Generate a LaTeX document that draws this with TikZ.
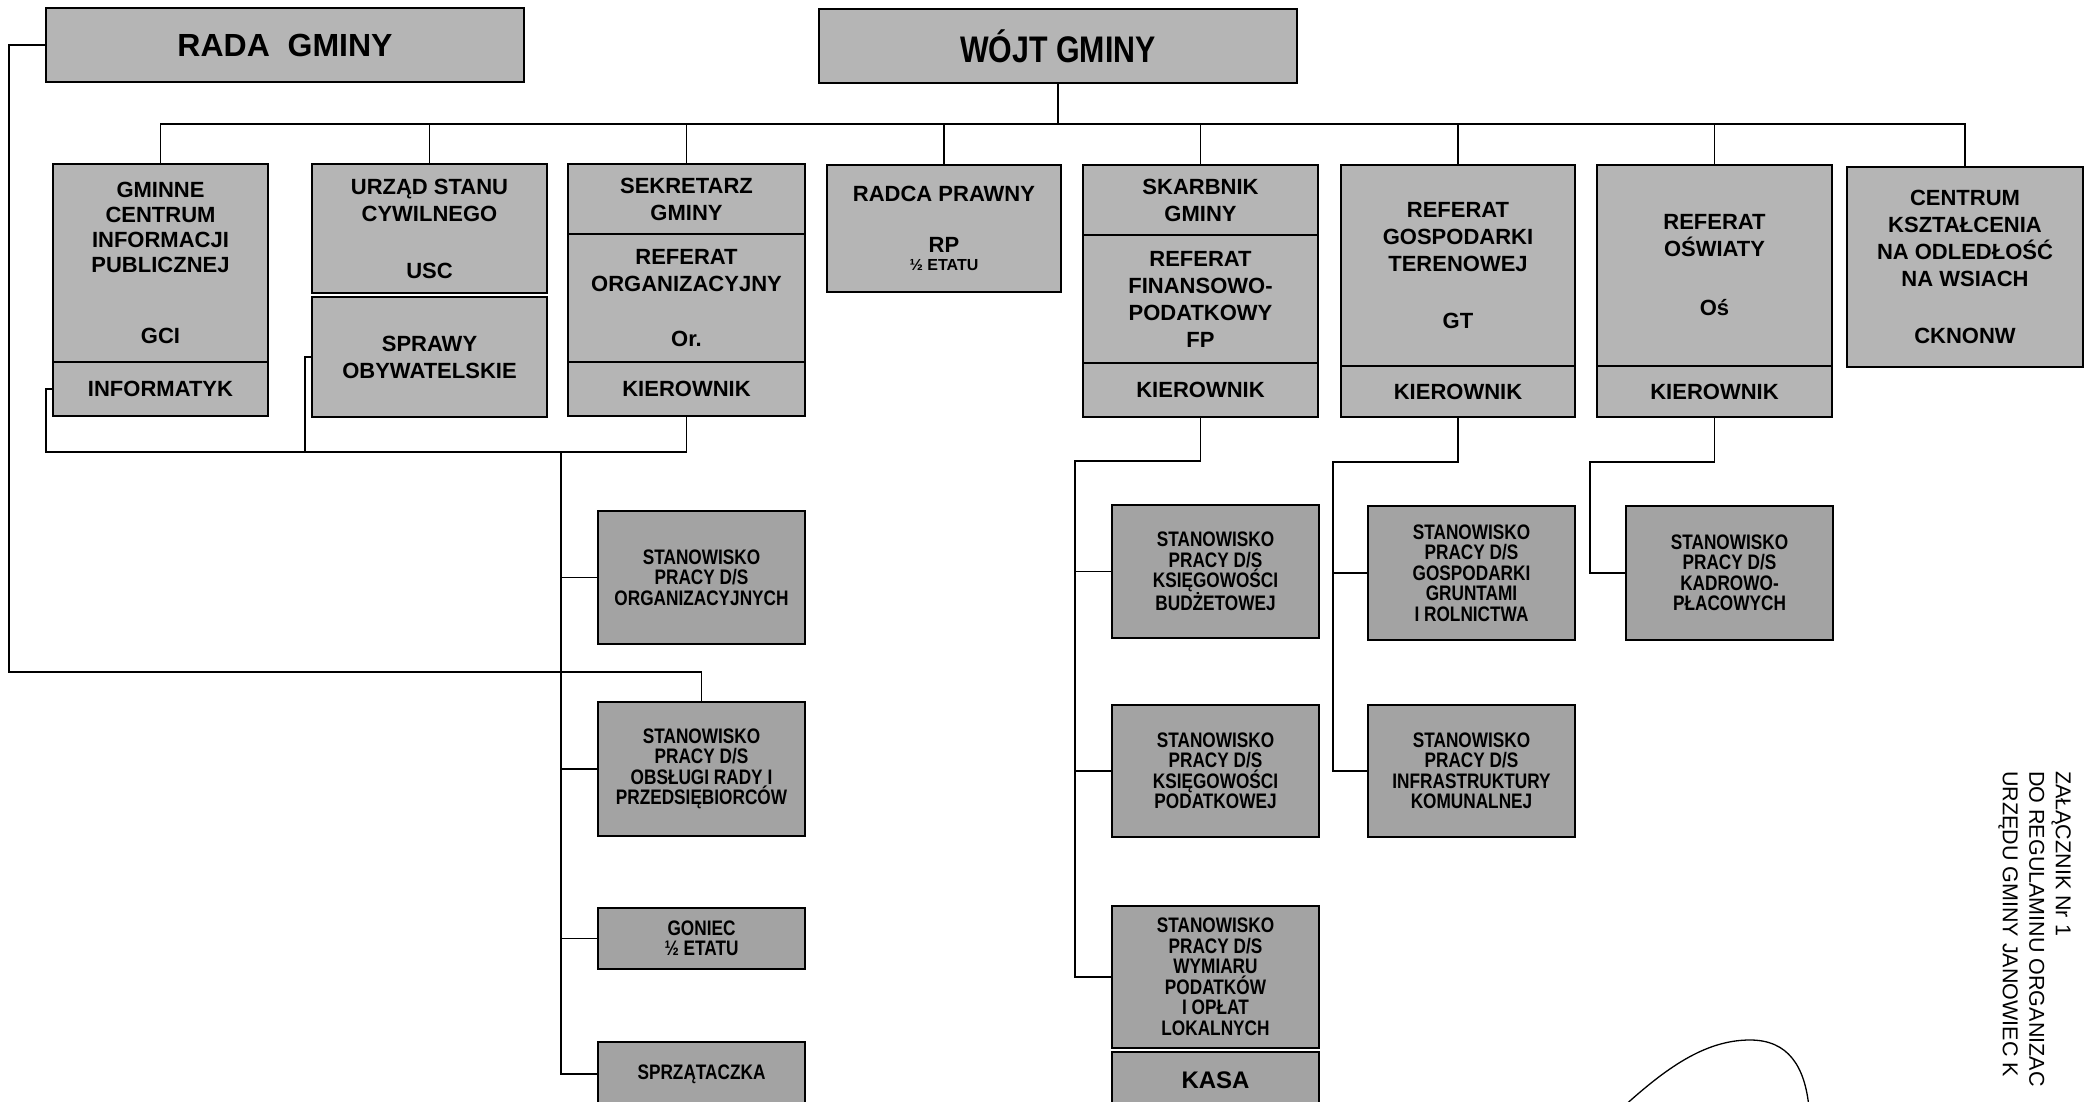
\documentclass[tikz,border=0pt]{standalone}
\usepackage{fontspec}
\setmainfont{Liberation Sans}
\newfontfamily\narrowfont{Liberation Sans}[FakeStretch=0.82]
\usepackage{tikz}
\usetikzlibrary{positioning}
\definecolor{topgray}{HTML}{B5B5B5}
\definecolor{lowgray}{HTML}{A3A3A3}

\begin{document}
\begin{tikzpicture}[x=1pt, y=-1pt,
  unit/.style={rectangle, draw, line width=1.6pt, fill=topgray, inner sep=0pt, outer sep=0pt,
    align=center, anchor=north west, minimum width=235pt,
    font=\fontsize{22}{27}\selectfont\bfseries},
  post/.style={unit, fill=lowgray, minimum width=207pt, minimum height=133pt,
    font=\narrowfont\bfseries\fontsize{21}{20.5}\selectfont},
  link/.style={line width=1.3pt}]
\useasboundingbox (0,0) rectangle (2094,1102);
\clip (0,0) rectangle (2094,1102);

\node (rada) [unit, minimum width=478pt, minimum height=74pt, font=\fontsize{32}{36}\selectfont\bfseries] at (46,8) {RADA\ \ GMINY};
\node (wojt) [unit, minimum width=478pt, minimum height=74pt, font=\narrowfont\bfseries\fontsize{37}{40}\selectfont] at (819,9) {WÓJT GMINY};

\node (gci) [unit, minimum width=215pt, minimum height=198pt, font=\fontsize{22}{25}\selectfont\bfseries] at (53,164) {GMINNE\\CENTRUM\\INFORMACJI\\PUBLICZNEJ\\[46pt]GCI};
\node (gciinf) [unit, minimum width=215pt, minimum height=54pt, below=0pt of gci] {INFORMATYK};

\node (usc) [unit, minimum height=129pt] at (312,164) {URZĄD STANU\\CYWILNEGO\\[30pt]USC};
\node (sprawy) [unit, minimum height=120pt, below=4pt of usc] {SPRAWY\\OBYWATELSKIE};

\node (sek) [unit, minimum width=237pt, minimum height=70pt] at (568,164) {SEKRETARZ\\GMINY};
\node (sekref) [unit, minimum width=237pt, minimum height=128pt, below=0pt of sek] {REFERAT\\ORGANIZACYJNY\\[28pt]Or.};
\node (sekkier) [unit, minimum width=237pt, minimum height=54pt, below=0pt of sekref] {KIEROWNIK};

\node (radca) [unit, minimum width=234pt, minimum height=127pt] at (827,165) {RADCA PRAWNY\\[24pt]RP\\[-9pt]{\fontsize{16}{16}\selectfont ½ ETATU}};

\node (skarb) [unit, minimum height=70pt] at (1083,165) {SKARBNIK\\GMINY};
\node (skref) [unit, minimum height=128pt, below=0pt of skarb] {REFERAT\\FINANSOWO-\\PODATKOWY\\FP};
\node (skkier) [unit, minimum height=54pt, below=0pt of skref] {KIEROWNIK};

\node (gt) [unit, minimum width=234pt, minimum height=201pt] at (1341,165) {REFERAT\\GOSPODARKI\\TERENOWEJ\\[30pt]GT};
\node (gtkier) [unit, minimum width=234pt, minimum height=51pt, below=0pt of gt] {KIEROWNIK};

\node (os) [unit, minimum height=201pt] at (1597,165) {REFERAT\\OŚWIATY\\[32pt]Oś};
\node (oskier) [unit, minimum height=51pt, below=0pt of os] {KIEROWNIK};

\node (ckn) [unit, minimum width=236pt, minimum height=200pt] at (1847,167) {CENTRUM\\KSZTAŁCENIA\\NA ODLEDŁOŚĆ\\NA WSIACH\\[30pt]CKNONW};

\node (org) [post] at (598,511) {STANOWISKO\\PRACY D/S\\ORGANIZACYJNYCH};
\node (obsl) [post, minimum height=134pt, below=58pt of org] {STANOWISKO\\PRACY D/S\\OBSŁUGI RADY I\\PRZEDSIĘBIORCÓW};
\node (goniec) [post, minimum height=61pt, below=72pt of obsl] {GONIEC\\½ ETATU};
\node (sprz) [post, minimum height=64pt, below=73pt of goniec] {SPRZĄTACZKA};

\node (ksb) [post] at (1112,505) {STANOWISKO\\PRACY D/S\\KSIĘGOWOŚCI\\BUDŻETOWEJ};
\node (ksp) [post, minimum height=132pt, below=67pt of ksb] {STANOWISKO\\PRACY D/S\\KSIĘGOWOŚCI\\PODATKOWEJ};
\node (wym) [post, minimum height=142pt, below=69pt of ksp] {STANOWISKO\\PRACY D/S\\WYMIARU\\PODATKÓW\\I OPŁAT\\LOKALNYCH};
\node (kasa) [post, minimum height=56pt, below=4pt of wym, font=\fontsize{24}{26}\selectfont\bfseries] {KASA};

\node (ggr) [post, minimum height=134pt] at (1368,506) {STANOWISKO\\PRACY D/S\\GOSPODARKI\\GRUNTAMI\\I ROLNICTWA};
\node (infra) [post, minimum height=132pt, below=65pt of ggr] {STANOWISKO\\PRACY D/S\\INFRASTRUKTURY\\KOMUNALNEJ};

\node (kadr) [post, minimum height=134pt] at (1626,506) {STANOWISKO\\PRACY D/S\\KADROWO-\\PŁACOWYCH};

\node (zal) [rotate=-90, anchor=north west, align=left, inner sep=0pt, font=\fontsize{21.5}{26.5}\selectfont] at (2071,771) {ZAŁĄCZNIK Nr 1\\DO REGULAMINU ORGANIZAC\\URZĘDU GMINY JANOWIEC K};

\coordinate (bus) at (1058,124);
\coordinate (hub) at (561,452);
\coordinate (radabend) at (9,672);
\coordinate (fpbend) at (1075,461);
\coordinate (gtbend) at (1333,462);
\coordinate (osbend) at (1590,462);

\draw [link] (wojt) -- (bus);
\draw [link] (gci.north) |- (bus) -| (ckn.north);
\foreach \n in {usc,sek,radca,skarb,gt,os}
  \draw [link] (\n.north) -- (\n.north |- bus);

\draw [link] (gciinf.west) -- ++(-7,0) |- (hub) -| (sekkier.south);
\draw [link] (sprawy.west) -- ++(-7,0) |- (hub);
\draw [link] (hub) |- (sprz.west);
\foreach \n in {org,obsl,goniec}
  \draw [link] (hub |- \n.west) -- (\n.west);
\draw [link] (rada.west) -| (radabend) -| (obsl.north);

\draw [link] (skkier.south) |- (fpbend) |- (wym.west);
\foreach \n in {ksb,ksp}
  \draw [link] (fpbend |- \n.west) -- (\n.west);
\draw [link] (gtkier.south) |- (gtbend) |- (infra.west);
\draw [link] (gtbend |- ggr.west) -- (ggr.west);
\draw [link] (oskier.south) |- (osbend) |- (kadr.west);

\draw [link] (1622,1108) .. controls (1666,1068) and (1705,1040) .. (1750,1040) .. controls (1788,1040) and (1805,1066) .. (1809,1108);
\end{tikzpicture}
\end{document}
